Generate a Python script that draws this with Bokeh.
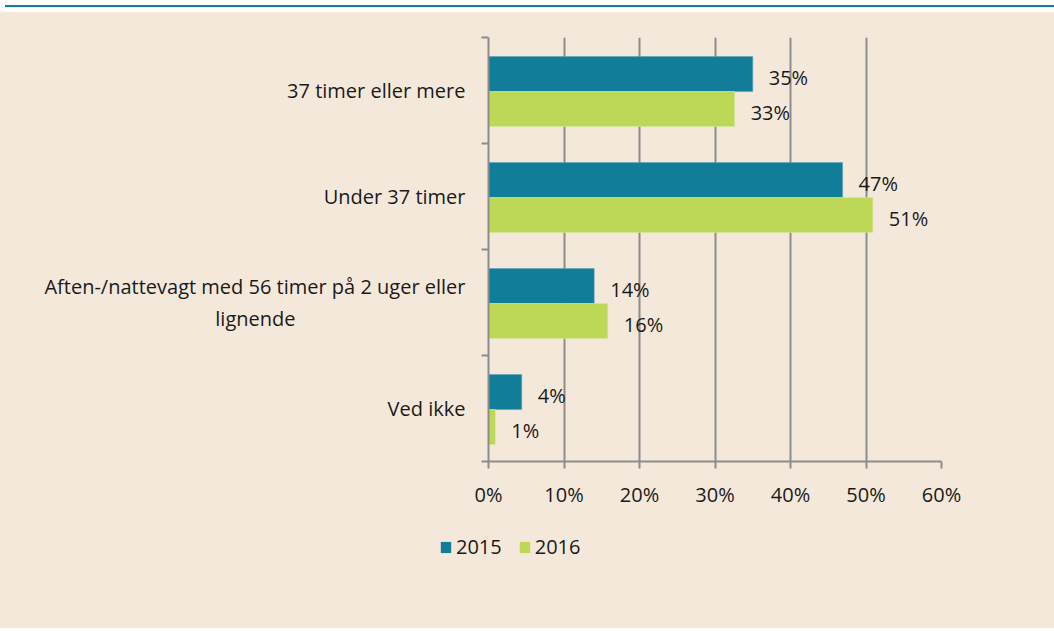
from bokeh.plotting import figure
from bokeh.models import (Range1d, FixedTicker, PrintfTickFormatter, ColumnDataSource,
                          Legend, LegendItem, Div)
from bokeh.layouts import column
from bokeh.embed import file_html
from bokeh.resources import INLINE
from bokeh.core.properties import value

PAD = "\u2002" * 17
categories = ["37 timer eller mere", "Under 37 timer",
              "Aften-/nattevagt med 56 timer på 2 uger eller\nlignende" + PAD, "Ved ikke"]
years = ["2015", "2016"]
values_2015 = [35.0, 46.9, 14.0, 4.4]
values_2016 = [32.6, 50.9, 15.8, 0.9]
x_ticks = [0, 10, 20, 30, 40, 50, 60]

FONT = "Open Sans"
FS = "20px"
TXT = "#1a1a1a"
BG = "#F4E8DB"
C15 = "#127D99"
C16 = "#BDD857"
GRID = "#8C8C8C"
W = 1054
HL = 104

idx = list(range(len(categories)))
src15 = ColumnDataSource(dict(y=[i + 0.345 for i in idx], v=values_2015,
                              lab=[f"{round(v)}%" for v in values_2015]))
src16 = ColumnDataSource(dict(y=[i + 0.675 for i in idx], v=values_2016,
                              lab=[f"{round(v)}%" for v in values_2016]))

p = figure(width=W, height=512, output_backend="svg", toolbar_location=None,
           x_range=Range1d(0, 60), y_range=Range1d(4, 0),
           min_border_left=488, min_border_right=W - 941, min_border_top=25, min_border_bottom=63)
p.frame_align = False
p.background_fill_color = BG
p.border_fill_color = BG
p.outline_line_color = None

p.hbar(y="y", right="v", left=0, height=0.33, source=src15, fill_color=C15,
       line_color="#5aa3b6", line_width=0.6)
p.hbar(y="y", right="v", left=0, height=0.33, source=src16, fill_color=C16,
       line_color="#d6e79a", line_width=0.6)

for s in (src15, src16):
    p.text(x="v", y="y", text="lab", source=s, x_offset=16, y_offset=3,
           text_baseline="middle", text_align="left", text_font=value(FONT),
           text_font_size=FS, text_color=TXT)

# x axis
p.xaxis.ticker = FixedTicker(ticks=x_ticks)
p.xaxis.formatter = PrintfTickFormatter(format="%d%%")
p.xaxis.axis_line_color = GRID
p.xaxis.axis_line_width = 2
p.xaxis.major_tick_line_color = GRID
p.xaxis.major_tick_line_width = 2
p.xaxis.major_tick_out = 7
p.xaxis.major_tick_in = 0
p.xaxis.minor_tick_line_color = None
p.xaxis.major_label_text_font = FONT
p.xaxis.major_label_text_font_size = FS
p.xaxis.major_label_text_color = TXT
p.xaxis.major_label_standoff = 12

# y axis: labels at centers, ticks at boundaries
p.yaxis.ticker = FixedTicker(ticks=[i + 0.5 for i in idx], minor_ticks=[0, 1, 2, 3, 4])
p.yaxis.major_label_overrides = {i + 0.5: c for i, c in zip(idx, categories)}
p.yaxis.axis_line_color = GRID
p.yaxis.axis_line_width = 2
p.yaxis.major_tick_line_color = None
p.yaxis.minor_tick_line_color = GRID
p.yaxis.minor_tick_line_width = 2
p.yaxis.minor_tick_out = 7
p.yaxis.minor_tick_in = 0
p.yaxis.major_label_text_font = FONT
p.yaxis.major_label_text_font_size = FS
p.yaxis.major_label_text_color = TXT
p.yaxis.major_label_standoff = 16

p.xgrid.ticker = FixedTicker(ticks=x_ticks)
p.xgrid.grid_line_color = GRID
p.xgrid.grid_line_width = 2
p.ygrid.grid_line_color = None

# legend strip (own figure, frame covering all of it)
pl = figure(width=W, height=HL, output_backend="svg", toolbar_location=None,
            x_range=Range1d(0, W), y_range=Range1d(0, HL),
            x_axis_location=None, y_axis_location=None,
            min_border_left=0, min_border_right=0, min_border_top=0, min_border_bottom=0)
pl.frame_align = False
pl.background_fill_color = BG
pl.border_fill_color = BG
pl.outline_line_color = None
pl.grid.grid_line_color = None
e15 = pl.hbar(y="y", right="v", left=0, height=0.33, source=src15, fill_color=C15,
              line_color=None, visible=False)
e16 = pl.hbar(y="y", right="v", left=0, height=0.33, source=src16, fill_color=C16,
              line_color=None, visible=False)
legend = Legend(items=[LegendItem(label=years[0], renderers=[e15], index=0),
                       LegendItem(label=years[1], renderers=[e16], index=0)],
                orientation="horizontal", location=(439, HL - 24 - 12),
                background_fill_alpha=0, border_line_color=None,
                inactive_fill_alpha=0,
                label_text_font=FONT, label_text_font_size=FS, label_text_color=TXT,
                glyph_width=13, glyph_height=14, label_standoff=4, spacing=16,
                padding=0, margin=0)
pl.add_layout(legend, "center")

line = Div(width=W, height=2, styles={"background-color": "#0E7E9A", "font-size": "0",
                                      "line-height": "0", "overflow": "hidden"})
body = column(p, pl, spacing=0, styles={"background-color": BG})
layout = column(line, body, spacing=0)

open("out.html", "w").write(file_html(layout, INLINE))
